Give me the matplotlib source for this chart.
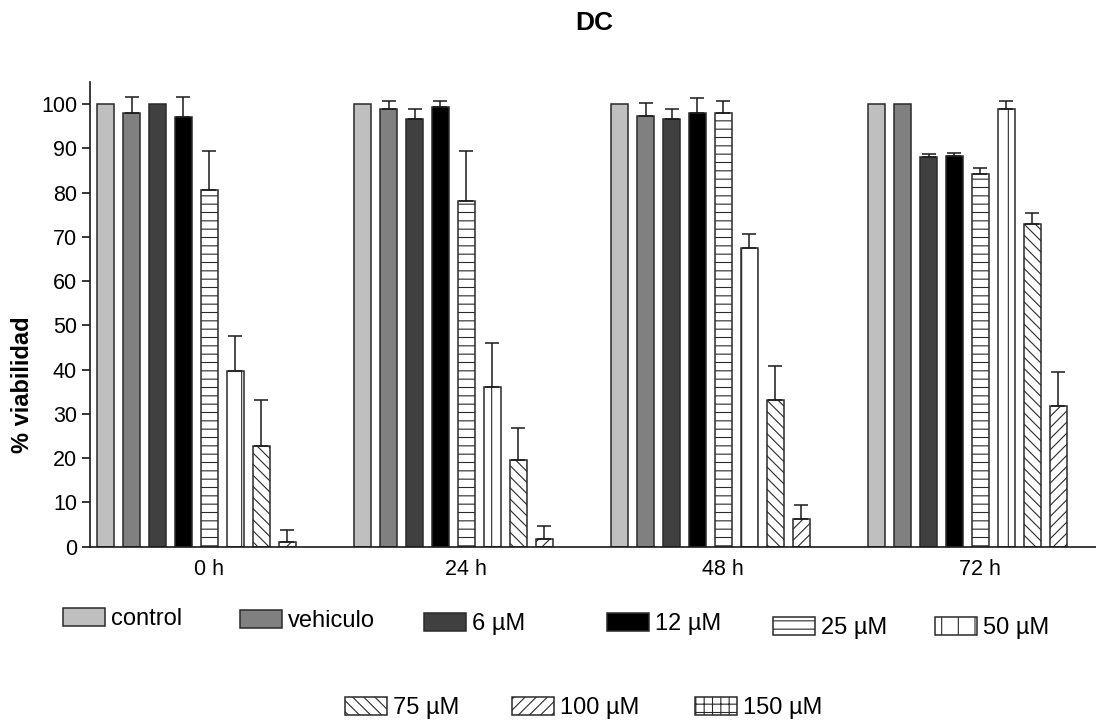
import numpy as np
import matplotlib
matplotlib.use("Agg")
import matplotlib.pyplot as plt
from matplotlib.patches import Patch

plt.rcParams['font.family'] = ['Liberation Sans', 'DejaVu Sans']
plt.rcParams['hatch.linewidth'] = 0.8

###### data ######
groups = ["0 h", "24 h", "48 h", "72 h"]
series = ["control", "vehiculo", "6 µM", "12 µM", "25 µM", "50 µM", "75 µM", "100 µM", "150 µM"]

control = [100, 100, 100, 100]
vehiculo = [98.1, 98.9, 97.3, 100]
c6 = [100, 96.6, 96.6, 88.0]
c12 = [97.0, 99.4, 98.1, 88.3]
c25 = [80.6, 78.2, 98.1, 84.1]
c50 = [39.8, 36.0, 67.5, 98.9]
c75 = [22.7, 19.6, 33.2, 73.0]
c100 = [1.1, 1.7, 6.3, 31.7]
c150 = [0, 0, 0, 0]

err_control = [0, 0, 0, 0]
err_vehiculo = [3.6, 1.9, 3.0, 0]
err_c6 = [0, 2.3, 2.3, 0.8]
err_c12 = [4.7, 1.4, 3.2, 0.6]
err_c25 = [8.8, 11.2, 2.7, 1.4]
err_c50 = [7.9, 10.0, 3.1, 1.9]
err_c75 = [10.5, 7.3, 7.7, 2.4]
err_c100 = [2.7, 3.0, 3.1, 7.7]
err_c150 = [0, 0, 0, 0]

values = [control, vehiculo, c6, c12, c25, c50, c75, c100, c150]
errors = [err_control, err_vehiculo, err_c6, err_c12, err_c25, err_c50, err_c75, err_c100, err_c150]

###### styles ######
faces = ['#bfbfbf', '#808080', '#404040', '#000000', 'white', 'white', 'white', 'white', 'white']
hatches = [None, None, None, None, '--', '|', '\\\\\\', '///', '++']
edge = '#2a2a2a'

fig = plt.figure(figsize=(10.96, 7.26), dpi=100)
ax = fig.add_axes([90/1096, 1 - 546.7/726, 1 - 90/1096, (546.7 - 82)/726])

x = np.arange(len(groups))
slot = 0.1008
width = 0.066
for i, (vals, errs) in enumerate(zip(values, errors)):
    pos = x + (i - 4) * slot
    vals = np.array(vals, dtype=float)
    errs = np.array(errs, dtype=float)
    shown = vals > 0  # empty 150 µM slot is left blank
    ax.bar(pos[shown], vals[shown], width, color=faces[i], edgecolor=edge,
           linewidth=1.1, hatch=hatches[i], zorder=2)
    m = errs > 0
    if m.any():
        ax.errorbar(pos[m], vals[m], yerr=[np.zeros(m.sum()), errs[m]],
                    fmt='none', ecolor='#1a1a1a', elinewidth=1.1, capsize=5,
                    capthick=1.1, zorder=3)

ax.set_xlim(-0.4646, 3.45)
ax.set_ylim(0, 105)
ax.set_yticks(np.arange(0, 101, 10))
ax.set_xticks(x)
ax.set_xticklabels(groups)
ax.tick_params(axis='x', length=0, pad=9, labelsize=15.5)
ax.tick_params(axis='y', length=5.8, width=1.1, pad=3.5, labelsize=15.5, direction='out')
for s in ['top', 'right']:
    ax.spines[s].set_visible(False)
for s in ['left', 'bottom']:
    ax.spines[s].set_linewidth(1.2)
    ax.spines[s].set_color('#1a1a1a')

ax.set_ylabel("% viabilidad", fontsize=17, fontweight='bold')
ax.yaxis.set_label_coords(-0.056, 0.348)

fig.text(594/1096, 1 - 23/726, "DC", fontsize=19, fontweight='bold',
         ha='center', va='center')

# legend: one small legend per entry, placed like the original
leg_pos = [(63, 619), (240, 621), (424, 624), (607, 624), (773, 628), (935, 628),
           (345, 708), (512, 708), (695, 708)]
for i, name in enumerate(series):
    h = Patch(facecolor=faces[i], edgecolor=edge, hatch=hatches[i], linewidth=1.1)
    px, py = leg_pos[i]
    fig.legend(handles=[h], labels=[name], loc='center left',
               bbox_to_anchor=(px/1096, 1 - py/726), frameon=False,
               borderpad=0, borderaxespad=0, handlelength=1.78, handleheight=0.8,
               handletextpad=0.25, prop={'size': 17})

fig.savefig("out.png", dpi=100)
